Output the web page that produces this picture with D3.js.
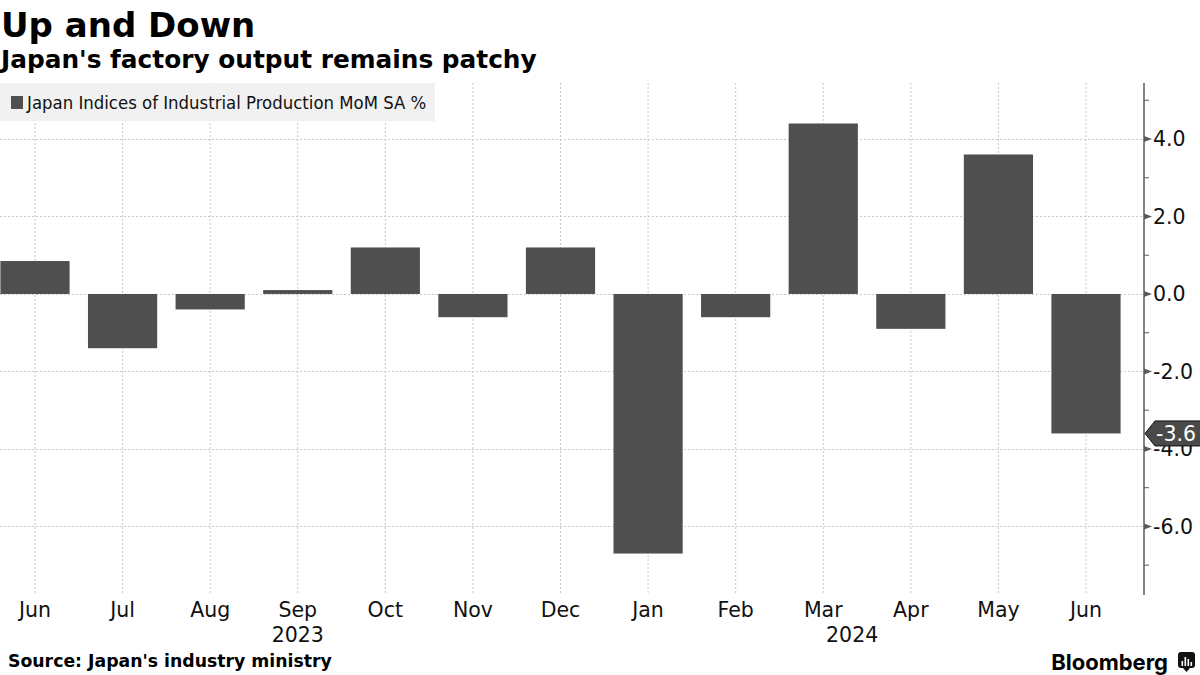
<!DOCTYPE html>
<html>
<head>
<meta charset="utf-8">
<script src="https://cdn.jsdelivr.net/npm/d3@7"></script>
<style>
  html, body { margin: 0; padding: 0; background: #fff; }
  svg { display: block; }
</style>
</head>
<body>
<svg id="chart" width="1200" height="675"></svg>
<script>
// ---- data ----
const months = ["Jun", "Jul", "Aug", "Sep", "Oct", "Nov", "Dec", "Jan", "Feb", "Mar", "Apr", "May", "Jun"];
const periodKeys = ["2023-06","2023-07","2023-08","2023-09","2023-10","2023-11","2023-12","2024-01","2024-02","2024-03","2024-04","2024-05","2024-06"];
const values = [0.85, -1.4, -0.4, 0.1, 1.2, -0.6, 1.2, -6.7, -0.6, 4.4, -0.9, 3.6, -3.6];
const yearLabels = ["2023", "2024"];
const yearAnchors = ["2023-09", "2024-03"];
const yearOffsets = [0, 0.33];
const majorTicks = [-6, -4, -2, 0, 2, 4];
const minorTicks = [-7, -5, -3, -1, 1, 3, 5];
const seriesName = "Japan Indices of Industrial Production MoM SA %";
const titleText = "Up and Down";
const subtitleText = "Japan's factory output remains patchy";
const sourceText = "Source: Japan's industry ministry";

// ---- layout ----
const svg = d3.select("#chart");
const plotTop = 83, plotBottom = 595, axisX = 1144;
const barColor = "#4f4f4f";
const gridColor = "#c8c8c8";

const x = d3.scaleBand()
  .domain(periodKeys)
  .range([-8.8, 1129.8])
  .paddingInner(0.21)
  .paddingOuter(0.105);

const y = d3.scaleLinear()
  .domain([-7.77, 5.445])
  .range([plotBottom, plotTop]);

const cx = k => x(k) + x.bandwidth() / 2;

// grid: vertical dotted at each period
svg.append("g").selectAll("line")
  .data(periodKeys).join("line")
  .attr("x1", d => cx(d)).attr("x2", d => cx(d))
  .attr("y1", plotTop).attr("y2", plotBottom)
  .attr("stroke", gridColor).attr("stroke-width", 1)
  .attr("stroke-dasharray", "2,2");

// grid: horizontal dotted at major ticks
svg.append("g").selectAll("line")
  .data(majorTicks).join("line")
  .attr("x1", 0).attr("x2", axisX)
  .attr("y1", d => Math.round(y(d)) + 0.5).attr("y2", d => Math.round(y(d)) + 0.5)
  .attr("stroke", gridColor).attr("stroke-width", 1)
  .attr("stroke-dasharray", "2,2");

// legend
const legend = svg.append("g");
legend.append("rect").attr("x", 0).attr("y", 83).attr("width", 435).attr("height", 38)
  .attr("fill", "#f0f0f0").attr("fill-opacity", 0.95);
legend.append("rect").attr("x", 11).attr("y", 96).attr("width", 12).attr("height", 13)
  .attr("fill", barColor);
legend.append("text").attr("x", 27).attr("y", 109)
  .attr("font-family", "'DejaVu Sans Condensed', 'DejaVu Sans', sans-serif")
  .attr("font-stretch", "condensed")
  .attr("font-size", 18.4).attr("fill", "#111")
  .text(seriesName);

// bars
svg.append("g").selectAll("rect")
  .data(values).join("rect")
  .attr("x", (d, i) => x(periodKeys[i]))
  .attr("width", x.bandwidth())
  .attr("y", d => y(Math.max(0, d)))
  .attr("height", d => Math.abs(y(d) - y(0)))
  .attr("fill", barColor);

// right axis
const axisG = svg.append("g");
axisG.append("line").attr("x1", axisX).attr("x2", axisX)
  .attr("y1", plotTop).attr("y2", plotBottom)
  .attr("stroke", "#5a5a5a").attr("stroke-width", 1.5);
axisG.selectAll("path.maj").data(majorTicks).join("path")
  .attr("class", "maj")
  .attr("d", d => { const yy = y(d); return `M${axisX},${yy-3}L${axisX+8},${yy}L${axisX},${yy+3}Z`; })
  .attr("fill", "#5a5a5a");
axisG.selectAll("line.min").data(minorTicks).join("line")
  .attr("class", "min")
  .attr("x1", axisX).attr("x2", axisX + 5)
  .attr("y1", d => y(d)).attr("y2", d => y(d))
  .attr("stroke", "#5a5a5a").attr("stroke-width", 1);
axisG.selectAll("text").data(majorTicks).join("text")
  .attr("x", axisX + 9).attr("y", d => y(d) + 7.5)
  .attr("font-family", "'DejaVu Sans', sans-serif")
  .attr("font-size", 20.5).attr("fill", "#111")
  .text(d => d3.format(".1f")(d).replace("−", "-"));

// last value flag
const lastVal = values[values.length - 1];
const ly = y(lastVal);
const flag = svg.append("g");
flag.append("path")
  .attr("d", `M${axisX+1},${ly}L${axisX+11},${ly-12.5}L1201,${ly-12.5}L1201,${ly+12.5}L${axisX+11},${ly+12.5}Z`)
  .attr("fill", "#4a4a4a").attr("stroke", "#111").attr("stroke-width", 1);
flag.append("text").attr("x", axisX + 12).attr("y", ly + 7.5)
  .attr("font-family", "'DejaVu Sans', sans-serif")
  .attr("font-size", 20.5).attr("fill", "#fff")
  .text(d3.format(".1f")(lastVal).replace("−", "-"));

// x labels
svg.append("g").selectAll("text")
  .data(months).join("text")
  .attr("x", (d, i) => cx(periodKeys[i]))
  .attr("y", 617)
  .attr("text-anchor", "middle")
  .attr("font-family", "'DejaVu Sans', sans-serif")
  .attr("font-size", 20.5).attr("fill", "#111")
  .text(d => d);

svg.append("g").selectAll("text")
  .data(yearLabels).join("text")
  .attr("x", (d, i) => cx(yearAnchors[i]) + yearOffsets[i] * x.step())
  .attr("y", 642)
  .attr("text-anchor", "middle")
  .attr("font-family", "'DejaVu Sans', sans-serif")
  .attr("font-size", 20.5).attr("fill", "#111")
  .text(d => d);

// titles
svg.append("text").attr("x", 1).attr("y", 37)
  .attr("font-family", "'DejaVu Sans', sans-serif").attr("font-weight", "bold")
  .attr("font-size", 34).attr("fill", "#000").text(titleText);
svg.append("text").attr("x", 1).attr("y", 68)
  .attr("font-family", "'DejaVu Sans', sans-serif").attr("font-weight", "bold")
  .attr("font-size", 24.8).attr("fill", "#000").text(subtitleText);

// source
svg.append("text").attr("x", 8).attr("y", 667)
  .attr("font-family", "'DejaVu Sans', sans-serif").attr("font-weight", "bold")
  .attr("font-size", 17.3).attr("fill", "#000").text(sourceText);

// Bloomberg mark
const bb = svg.append("g");
bb.append("text").attr("x", 1168).attr("y", 670).attr("text-anchor", "end")
  .attr("font-family", "Inter, 'Liberation Sans', sans-serif").attr("font-weight", "bold")
  .attr("font-size", 22).attr("fill", "#000").text("Bloomberg");
bb.append("rect").attr("x", 1178).attr("y", 652).attr("width", 17).attr("height", 16).attr("rx", 3)
  .attr("fill", "#111");
bb.append("path").attr("d", "M1183,668L1186.5,672L1190,668Z").attr("fill", "#111");
[[1181.5, 661, 5], [1184.5, 657, 9], [1187.5, 659, 7], [1190.5, 662, 4]].forEach(b => {
  bb.append("rect").attr("x", b[0]).attr("y", b[1]).attr("width", 1.6).attr("height", b[2]).attr("fill", "#fff");
});
</script>
</body>
</html>
